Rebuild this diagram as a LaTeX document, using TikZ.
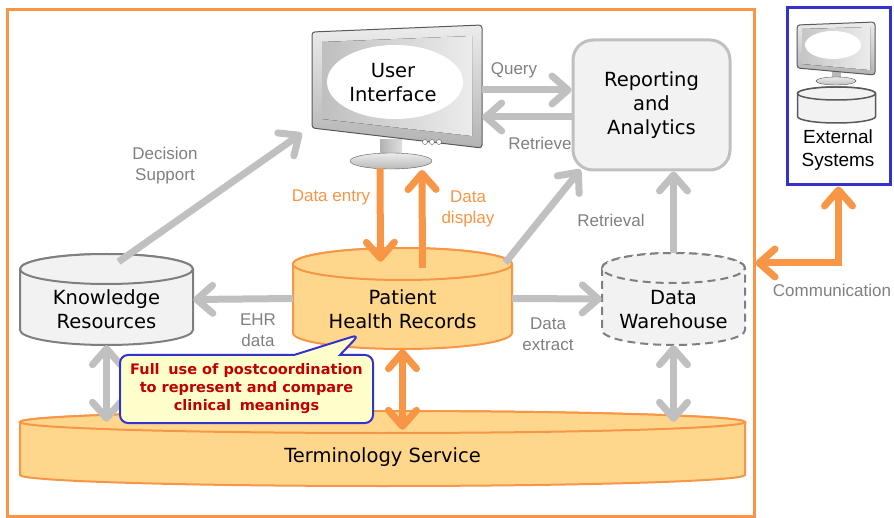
\documentclass[tikz,border=0pt]{standalone}
\usepackage{fontspec}
\setmainfont{DejaVu Sans}
\newfontfamily\notefont{Liberation Sans}
\usetikzlibrary{arrows.meta,shapes.callouts}

\definecolor{orng}{HTML}{F79646}
\definecolor{lorng}{HTML}{FFD78C}
\definecolor{gline}{HTML}{C0C0C0}
\definecolor{gtext}{HTML}{808080}
\definecolor{gfill}{HTML}{F2F2F2}
\definecolor{gdark}{HTML}{7F7F7F}
\definecolor{callred}{HTML}{C00000}
\definecolor{callfill}{HTML}{FFFFCC}
\definecolor{callblue}{HTML}{3333CC}

\tikzset{barb/.tip={Straight Barb[length=16pt,width=28pt,round]}}

% drum: style, cx, top y, bottom y, x radius, y radius
\newcommand{\drum}[6]{%
	\path[#1] ([xshift=-#5pt]#2,#3) -- ([xshift=-#5pt]#2,#4)
		arc[start angle=180, end angle=360, x radius=#5pt, y radius=#6pt]
		-- ([xshift=#5pt]#2,#3)
		arc[start angle=0, end angle=180, x radius=#5pt, y radius=#6pt] -- cycle;
	\path[#1] (#2,#3) ellipse[x radius=#5pt, y radius=#6pt];}

\begin{document}
\begin{tikzpicture}[x=1pt, y=-1pt,
	every node/.style={align=center},
	main/.style={font=\fontsize{19.5}{24}\selectfont},
	note/.style={font=\notefont\fontsize{17}{21}\selectfont, text=gtext},
	onote/.style={note, text=orng},
	hull/.style={draw=none, inner sep=0pt},
	garrow/.style={draw=gline, line width=7pt, -barb},
	gboth/.style={draw=gline, line width=7pt, barb-barb},
	oarrow/.style={garrow, draw=orng},
	oboth/.style={gboth, draw=orng},
	graycyl/.style={fill=gfill, draw=gdark, line width=2pt},
	orngcyl/.style={fill=lorng, draw=orng, line width=2pt},
	screen/.style={draw=gray!70!black, line width=1pt, top color=gray!15, bottom color=gray!60, rounded corners=3pt},
	callbox/.style={rectangle callout, draw=callblue, line width=2pt, fill=callfill,
		rounded corners=8pt, text=callred, font=\bfseries\fontsize{14.5}{18}\selectfont,
		minimum width=253pt, minimum height=68pt, callout pointer width=46pt}]
	\useasboundingbox (0,0) rectangle (894,518);

	\node[draw=orng, line width=3pt, minimum width=747pt, minimum height=506pt, inner sep=0pt] (sys) at (380.5,263) {};

	% external systems
	\node[draw=callblue, line width=3pt, fill=white, minimum width=103pt, minimum height=177pt, inner sep=0pt] (es) at (838.5,96.5) {};
	\fill[gray!55] (832,70) rectangle (841,82);
	\draw[gray!70!black, top color=gray!15, bottom color=gray!50] (836,81) ellipse[x radius=20pt, y radius=4pt];
	\draw[screen] (797,25) -- (875,22) -- (875,75) -- (797,68) -- cycle;
	\fill[left color=gray!45, right color=gray!15] (802,29) -- (870,27) -- (870,70) -- (802,64) -- cycle;
	\fill[white] (833,45) ellipse[x radius=28pt, y radius=14pt];
	\drum{fill=gfill, draw=gray!70!black, line width=1.5pt}{836.5}{93.5}{116.5}{39}{6.5}
	\node[main, font=\notefont\fontsize{19}{23}\selectfont] (estxt) at (838,150) {External\\Systems};

	% user interface
	\fill[left color=gray!60, right color=gray!25] (380,140) rectangle (402,160);
	\draw[gray!70!black, top color=gray!15, bottom color=gray!55] (391,161) ellipse[x radius=41pt, y radius=8pt];
	\draw[screen] (312,32) -- (482,25) -- (482,148) -- (312,128) -- cycle;
	\fill[left color=gray!50, right color=gray!15] (322,42) -- (472,36) -- (472,136) -- (322,119) -- cycle;
	\fill[white] (395,82) ellipse[x radius=68pt, y radius=37pt];
	\foreach \bx in {425,432,439}
		\draw[gray!70!black, fill=white] (\bx,142) circle[radius=2.5pt];
	\node[hull, minimum width=170pt, minimum height=123pt,
		label={[main, xshift=-4pt, yshift=4pt]center:User\\Interface}] (ui) at (397,86.5) {};
	\coordinate (uibase) at (391,168);

	\node[main, draw=gline, line width=3pt, fill=gfill, rounded corners=20pt,
		minimum width=157pt, minimum height=130pt] (ra) at (651.5,105) {Reporting\\and\\Analytics};

	% cylinders
	\drum{graycyl}{106.5}{269}{330}{86.5}{15}
	\drum{orngcyl}{402.5}{264}{333}{109.5}{16}
	\drum{graycyl, dashed, dash pattern=on 8pt off 5pt}{673.5}{268}{330}{71.5}{15}
	\drum{orngcyl}{382.5}{422}{475}{362.5}{11}
	\node[hull, minimum width=173pt, minimum height=91pt,
		label={[main, yshift=-10pt]center:Knowledge\\Resources}] (kr) at (106.5,299.5) {};
	\node[hull, minimum width=219pt, minimum height=101pt,
		label={[main, yshift=-11pt]center:Patient\\Health Records}] (phr) at (402.5,298.5) {};
	\node[hull, minimum width=143pt, minimum height=92pt,
		label={[main, yshift=-11pt]center:Data\\Warehouse}] (dw) at (673.5,299) {};
	\node[hull, minimum width=725pt, minimum height=65pt,
		label={[main, yshift=-3pt]center:Terminology Service}] (ts) at (382.5,454.5) {};

	% connectors
	\draw[garrow] ([yshift=-3.5pt]ui.east) -- ([yshift=15pt]ra.west);
	\draw[garrow] ([yshift=-12pt]ra.west) -- ([yshift=-30.5pt]ui.east);
	\draw[garrow] ([xshift=12pt,yshift=-8pt]kr.north) -- ([xshift=-10pt,yshift=15pt]ui.south west);
	\draw[oarrow] ([xshift=-11pt]uibase) -- ([xshift=-22pt,yshift=-14pt]phr.north);
	\draw[oarrow] ([xshift=20pt,yshift=-20pt]phr.north) -- ([xshift=31pt,yshift=-2pt]uibase);
	\draw[garrow] ([xshift=-7pt,yshift=-15pt]phr.north east) -- ([xshift=9pt,yshift=2pt]ra.south west);
	\draw[garrow] (dw.north) -- (dw.north |- ra.south);
	\draw[garrow] (phr.west) -- (kr.east);
	\draw[garrow] (phr.east) -- (dw.west);
	\draw[gboth] (kr.south) -- (kr.south |- ts.north);
	\draw[oboth] (phr.south) -- ([yshift=-8pt]phr.south |- ts.north);
	\draw[gboth] (dw.south) -- (dw.south |- ts.north);
	\draw[oboth] (es.south) |- (sys.east);

	% labels
	\node[note] (query) at (514,70) {Query};
	\node[note] (retrieve) at (540,143) {Retrieve};
	\node[note] (decision) at (165,166) {Decision\\Support};
	\node[onote] (entry) at (331,197) {Data entry};
	\node[onote] (display) at (468,209) {Data\\display};
	\node[note] (retrieval) at (611,220) {Retrieval};
	\node[note] (ehr) at (258,330) {EHR\\data};
	\node[note] (extract) at (548,334) {Data\\extract};
	\node[note] (comm) at (832,290) {Communication};

	\node[callbox, callout absolute pointer={([xshift=-43pt,yshift=-36pt]phr.center)}] (postcoord) at (246.5,389)
		{Full\hspace{0.6em}use of postcoordination\\to represent and compare\\clinical\hspace{0.6em}meanings};
\end{tikzpicture}
\end{document}
